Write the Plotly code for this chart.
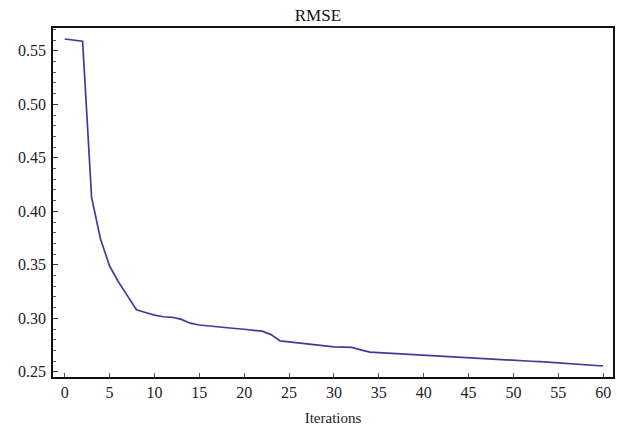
import plotly.graph_objects as go

iterations = list(range(0, 61))
rmse = [
    0.561, 0.560, 0.559, 0.413, 0.374, 0.349, 0.334, 0.321, 0.308, 0.3055,
    0.303, 0.3015, 0.301, 0.299, 0.2955, 0.2938, 0.2928, 0.2921, 0.2915, 0.2905,
    0.2898, 0.2892, 0.2880, 0.2848, 0.2790, 0.2780, 0.2772, 0.2762, 0.2752, 0.2742,
    0.2733, 0.2730, 0.2728, 0.2705, 0.2684, 0.2680, 0.2675, 0.2670, 0.2665, 0.2660,
    0.2655, 0.2650, 0.2645, 0.2640, 0.2633, 0.2627, 0.2623, 0.2619, 0.2615, 0.2611,
    0.2607, 0.2603, 0.2599, 0.2595, 0.2590, 0.2585, 0.2580, 0.2574, 0.2568, 0.2562,
    0.2555,
]
x_ticks = [0, 5, 10, 15, 20, 25, 30, 35, 40, 45, 50, 55, 60]
y_ticks = [0.25, 0.30, 0.35, 0.40, 0.45, 0.50, 0.55]
y_tick_labels = ["0.25", "0.30", "0.35", "0.40", "0.45", "0.50", "0.55"]

FONT = "Liberation Serif, Times New Roman, serif"

fig = go.Figure()
fig.add_trace(go.Scatter(
    x=iterations, y=rmse, mode="lines",
    line=dict(color="#3D3D99", width=1.7),
    hoverinfo="skip",
))

fig.update_layout(
    width=617, height=427,
    margin=dict(l=53, r=4, t=28, b=50),
    paper_bgcolor="white", plot_bgcolor="white",
    showlegend=False,
    font=dict(family=FONT, size=16, color="#222"),
    title=dict(text="RMSE", x=0.473, xref="paper", xanchor="center",
               y=1, yref="container", yanchor="top", pad=dict(t=9),
               font=dict(family=FONT, size=17, color="#111")),
    xaxis=dict(
        range=[-1.3, 61.1], tickmode="array", tickvals=x_ticks,
        ticks="inside", ticklen=4, tickwidth=1, tickcolor="#555",
        showgrid=False, zeroline=False, automargin=False,
        showline=True, linecolor="#111", linewidth=1.5, mirror=True,
        tickfont=dict(family=FONT, size=16, color="#222"),
        title=dict(text="Iterations", font=dict(family=FONT, size=15, color="#222"), standoff=13),
    ),
    yaxis=dict(
        range=[0.2452, 0.5713], tickmode="array", tickvals=y_ticks, ticktext=y_tick_labels,
        ticks="inside", ticklen=5, tickwidth=1, tickcolor="#333",
        minor=dict(dtick=0.01, tick0=0.25, ticks="inside", ticklen=3, tickwidth=1, tickcolor="#555", showgrid=False),
        showgrid=False, zeroline=False, automargin=False,
        showline=True, linecolor="#111", linewidth=1.5, mirror=True,
        tickfont=dict(family=FONT, size=16, color="#222"),
        ticklabelstandoff=2,
    ),
)

fig.write_html(
    "out.html",
    config={"displayModeBar": False},
    post_script="document.body.style.margin='0';document.body.style.overflow='hidden';",
)
